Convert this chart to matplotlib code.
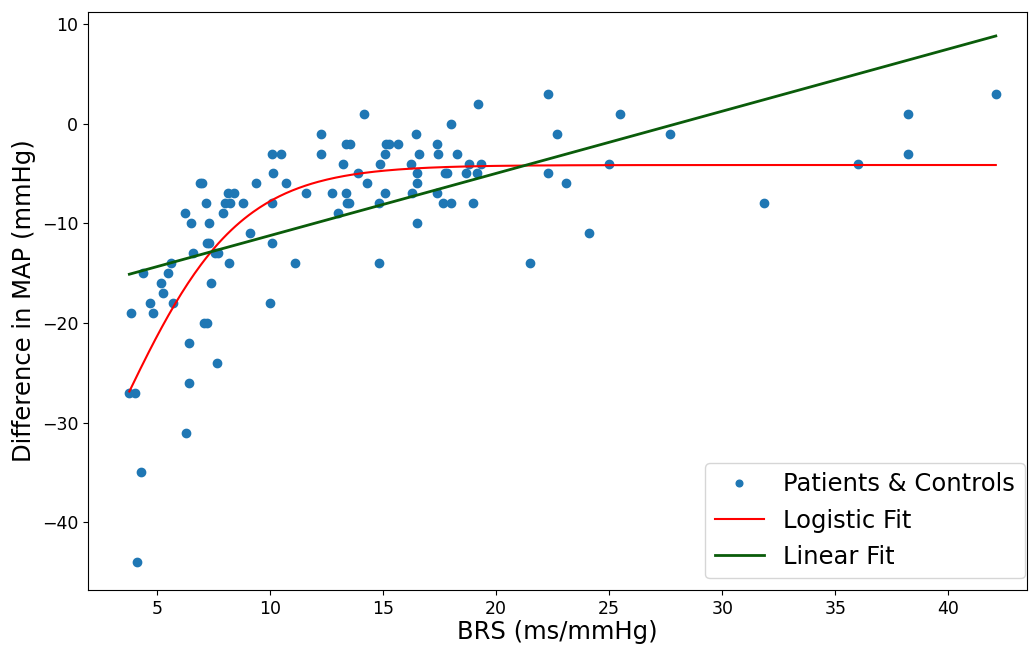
import numpy as np
import matplotlib
matplotlib.use("Agg")
import matplotlib.pyplot as plt

brs = [10.1, 10.5, 10.15, 10.7, 9.4, 6.9, 7.0, 8.15, 8.4, 7.15, 8.0, 8.25, 8.8, 10.1, 11.6,
       6.25, 7.9, 6.5, 7.3, 9.1, 10.1, 7.2, 7.3, 6.6, 7.55, 7.7, 8.2, 11.1, 5.6, 4.4, 5.5,
       5.2, 7.4, 5.25, 4.7, 5.7, 10.0, 3.86, 4.84, 7.1, 7.2, 6.43,
       7.64, 6.4, 3.78, 4.03, 6.28, 4.29, 4.13,
       19.2, 14.16, 18.0, 12.27, 16.47, 13.35, 13.54, 15.13, 15.28, 15.65, 17.37,
       12.27, 15.07, 16.6, 17.45, 18.26, 13.24, 14.87, 16.22, 18.8, 19.34,
       13.9, 16.5, 17.74, 17.85, 18.67, 19.17, 14.28, 16.5, 12.76, 13.36, 15.07, 16.3, 17.37,
       13.4, 13.5, 14.8, 17.64, 18.0, 19.0, 13.0, 16.5, 14.8,
       22.3, 25.5, 22.7, 27.7, 25.0, 22.3, 23.1, 31.85, 24.1, 21.5, 36.0, 38.2, 38.2, 42.1]
dmap = [-3, -3, -5, -6, -6, -6, -6, -7, -7, -8, -8, -8, -8, -8, -7,
        -9, -9, -10, -10, -11, -12, -12, -12, -13, -13, -13, -14, -14, -14, -15, -15,
        -16, -16, -17, -18, -18, -18, -19, -19, -20, -20, -22,
        -24, -26, -27, -27, -31, -35, -44,
        2, 1, 0, -1, -1, -2, -2, -2, -2, -2, -2,
        -3, -3, -3, -3, -3, -4, -4, -4, -4, -4,
        -5, -5, -5, -5, -5, -5, -6, -6, -7, -7, -7, -7, -7,
        -8, -8, -8, -8, -8, -8, -9, -10, -14,
        3, 1, -1, -1, -4, -5, -6, -8, -11, -14, -4, 1, -3, 3]

# fitted-curve parameters
logistic_top = -4.15
logistic_span = 50.0
logistic_k = 0.38
logistic_x0 = 3.3
linear_slope = 0.624
linear_intercept = -17.47

brs_arr = np.array(brs)
xs = np.linspace(brs_arr.min(), brs_arr.max(), 400)
y_log = logistic_top - logistic_span / (1 + np.exp(logistic_k * (xs - logistic_x0)))
y_lin = linear_intercept + linear_slope * xs

fig = plt.figure(figsize=(10.29, 6.45), dpi=100)
ax = fig.add_axes([0.0855, 0.0853, 0.913, 0.896])
ax.plot(brs, dmap, 'o', color='#1f77b4', markersize=6, label='Patients & Controls')
ax.plot(xs, y_log, color='red', lw=1.5, label='Logistic Fit')
ax.plot(xs, y_lin, color='#0a5c0a', lw=2.0, label='Linear Fit')

ax.set_xlim(1.95, 43.5)
ax.set_ylim(-46.8, 11.2)
ax.set_xticks([5, 10, 15, 20, 25, 30, 35, 40])
ax.set_yticks([-40, -30, -20, -10, 0, 10])
ax.tick_params(labelsize=12.5)
ax.set_xlabel('BRS (ms/mmHg)', fontsize=17.5, labelpad=2)
ax.set_ylabel('Difference in MAP (mmHg)', fontsize=17.5)
ax.legend(loc='lower right', fontsize=17.5, borderaxespad=0.0,
          bbox_to_anchor=(0.997, 0.02), markerscale=0.8)
fig.savefig('out.png', dpi=100)
